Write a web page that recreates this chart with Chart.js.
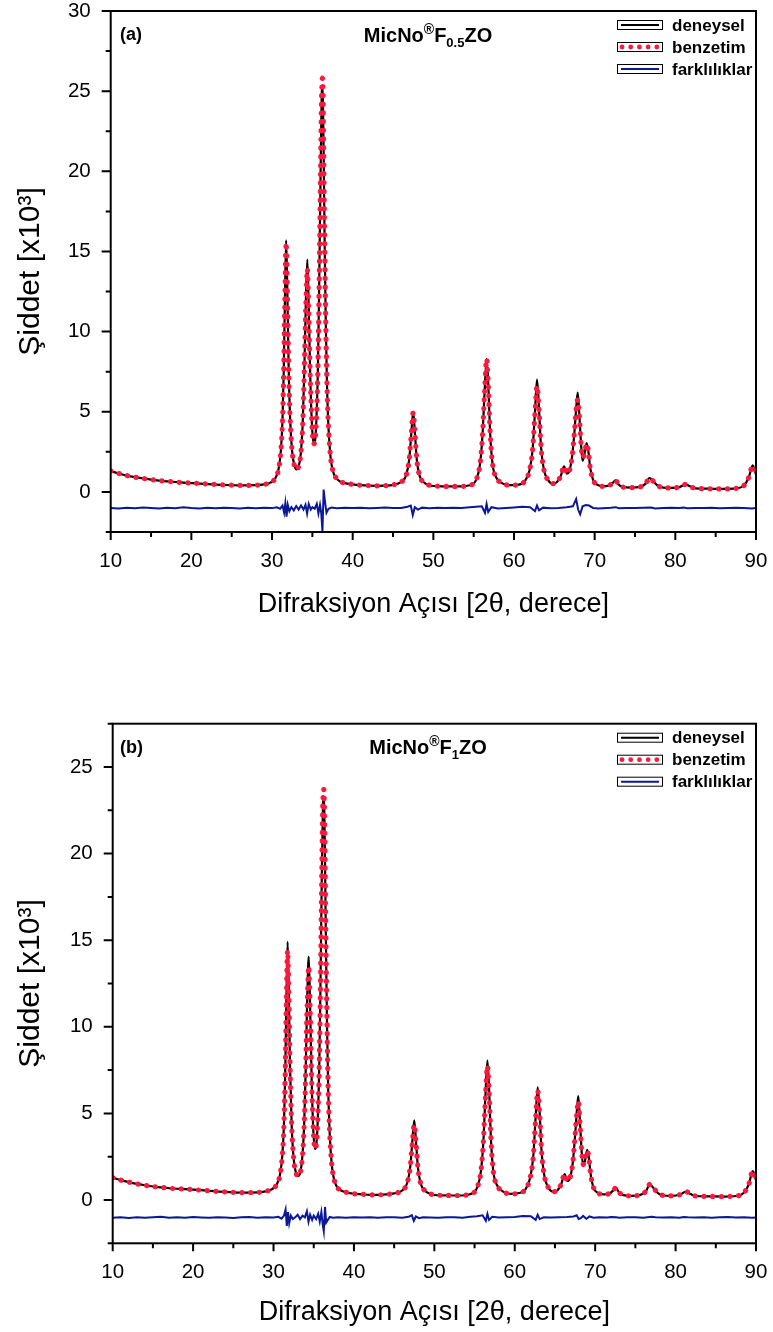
<!DOCTYPE html>
<html><head><meta charset="utf-8">
<script src="https://cdn.jsdelivr.net/npm/chart.js@4.4.1/dist/chart.umd.min.js"></script>
<style>
html,body{margin:0;padding:0;background:#fff;}
#wrap{position:relative;width:773px;height:1332px;overflow:hidden;}
canvas{position:absolute;left:0;}
</style></head><body>
<div id="wrap">
<canvas id="cA" width="773" height="650" style="top:0;width:773px;height:650px"></canvas>
<canvas id="cB" width="773" height="682" style="top:650px;width:773px;height:682px"></canvas>
</div>
<script>
// ---------- DATA ----------
const xTicks = [10,20,30,40,50,60,70,80,90];
const xMinorTicks = [15,25,35,45,55,65,75,85];
const yTicksA = [0,5,10,15,20,25,30];
const yTicksB = [0,5,10,15,20,25];
const yMinorA = [-2.5,2.5,7.5,12.5,17.5,22.5,27.5];
const yMinorB = [-2.5,2.5,7.5,12.5,17.5,22.5,27.5];
const seriesNames = ['deneysel','benzetim','farklılıklar'];

const xA = [10,11,12,13,14,15,16,17,18,19,20,
  22,24,26,28,29,29.8,30.4,30.8,
  31.1,31.3,31.45,31.6,31.75,31.9,32.05,32.25,32.5,32.8,
  33.05,33.3,33.55,33.8,34.0,34.2,34.38,34.55,34.75,34.95,
  35.15,35.3,35.5,35.7,35.85,36.0,36.15,36.25,36.38,36.5,
  36.65,36.8,37.0,37.25,37.55,37.9,38.4,39,40,41,
  42,43,44,45,46,46.6,47.0,47.25,47.5,47.7,
  47.95,48.3,48.8,49.5,51,53,54.5,55.3,55.8,56.1,
  56.35,56.6,56.8,57.05,57.35,57.8,58.5,59.5,60.5,61.3,
  61.9,62.3,62.6,62.85,63.1,63.35,63.7,64.2,64.8,65.3,
  65.8,66.2,66.55,66.85,67.2,67.5,67.75,67.9,68.1,68.35,
  68.5,68.75,69.0,69.2,69.45,69.8,70.3,71,71.8,72.3,
  72.6,72.9,73.5,74.5,75.5,76.3,76.8,77.2,77.8,78.5,
  79.5,80.5,81.3,81.8,82.5,84,86,87.5,88.5,89.1,
  89.6,90];
const expA = [1.30,1.15,1.02,0.92,0.84,0.77,0.71,0.66,0.62,0.58,0.55,
  0.49,0.44,0.41,0.42,0.47,0.58,0.85,1.4,
  2.6,4.5,7.5,12.0,15.7,12.5,8.0,4.5,2.5,1.6,
  1.4,1.6,2.3,4.2,7.5,12.0,14.5,11.5,7.0,4.2,
  3.0,3.1,4.5,8.0,13.0,19.0,24.5,25.3,22.0,16.5,
  11.0,7.0,4.0,2.2,1.3,0.9,0.66,0.55,0.47,0.42,
  0.39,0.38,0.39,0.44,0.62,1.0,2.0,3.5,5.0,3.8,
  2.0,1.0,0.6,0.42,0.35,0.34,0.42,0.75,1.8,3.6,
  6.2,8.3,6.8,3.6,1.7,0.9,0.55,0.42,0.45,0.65,
  1.3,2.6,5.0,7.0,5.2,2.8,1.4,0.75,0.52,0.6,
  1.0,1.6,1.15,1.3,2.2,3.8,5.5,6.2,4.8,2.7,
  1.95,2.4,3.05,2.6,1.5,0.75,0.45,0.35,0.4,0.6,
  0.72,0.5,0.3,0.27,0.3,0.5,0.87,0.7,0.4,0.27,
  0.25,0.3,0.47,0.35,0.22,0.2,0.19,0.22,0.4,0.9,
  1.65,1.1];
const fitA = [1.30,1.15,1.02,0.92,0.84,0.77,0.71,0.66,0.62,0.58,0.55,
  0.49,0.44,0.41,0.42,0.47,0.58,0.85,1.4,
  2.6,4.5,7.5,12.0,15.55,12.5,8.0,4.5,2.5,1.6,
  1.4,1.6,2.3,4.2,7.5,11.8,13.9,11.2,7.0,4.2,
  3.0,3.1,4.5,8.0,13.0,19.2,24.8,25.8,22.4,16.5,
  11.0,7.0,4.0,2.2,1.3,0.9,0.66,0.55,0.47,0.42,
  0.39,0.38,0.39,0.44,0.62,1.0,2.0,3.5,4.95,3.8,
  2.0,1.0,0.6,0.42,0.35,0.34,0.42,0.75,1.8,3.6,
  6.2,8.3,6.8,3.6,1.7,0.9,0.55,0.42,0.45,0.65,
  1.3,2.6,4.9,6.6,5.1,2.8,1.4,0.75,0.52,0.6,
  1.0,1.6,1.15,1.3,2.2,3.8,5.4,5.75,4.7,2.7,
  2.15,2.4,3.0,2.6,1.5,0.75,0.45,0.35,0.4,0.6,
  0.72,0.5,0.3,0.27,0.3,0.5,0.87,0.7,0.4,0.27,
  0.25,0.3,0.47,0.35,0.22,0.2,0.19,0.22,0.4,0.9,
  1.65,1.1];
const diffXA = [10,11,12,13,14,15,16,17,18,19,20,21,22,23,24,25,26,27,28,29,30,
  30.6,31.0,31.3,31.5,31.65,31.8,31.95,32.15,32.4,
  32.7,33.0,33.3,33.6,33.9,34.15,34.35,34.55,34.8,35.0,
  35.3,35.55,35.75,35.95,36.1,36.25,36.4,36.55,36.75,37.0,37.4,
  38,39,40,41,42,43,44,45,46,
  46.8,47.2,47.45,47.7,48.1,48.6,
  49.5,50.5,51.5,52.5,53.5,54.5,55.3,
  56.0,56.4,56.6,56.8,57.2,58,
  59,60,61,62,62.6,62.85,63.1,63.6,
  64.5,65.5,66.5,67.3,67.7,67.95,68.2,68.5,68.9,69.3,69.8,70.5,
  71.5,72,72.6,73,74,75,76,77,77.5,78.5,79.5,80.5,81,81.5,82.5,83.5,84.5,85.5,86.5,87.5,88.5,89.5,90];
const diffA = [-1.00,-1.03,-0.98,-1.02,-0.97,-1.01,-1.04,-0.99,-1.02,-0.96,-1.01,-1.03,-0.99,-1.02,-0.98,-1.01,-1.03,-0.99,-1.02,-0.98,-1.01,
  -0.96,-1.05,-0.85,-1.3,-0.7,-1.55,-0.8,-1.2,-0.95,
  -1.15,-0.88,-1.1,-0.85,-1.1,-0.8,-1.35,-0.75,-1.1,-0.95,
  -1.05,-0.75,-1.35,-0.8,-1.3,-2.45,0.15,-0.55,-1.3,-1.05,-0.98,
  -1.02,-0.99,-1.01,-0.98,-1.02,-1.0,-0.97,-1.01,-1.0,
  -0.92,-0.85,-1.45,-0.95,-1.1,-0.98,
  -1.02,-0.99,-1.01,-0.98,-1.0,-0.96,-0.92,
  -0.9,-1.3,-0.75,-1.25,-0.95,-1.03,
  -1.0,-0.97,-0.93,-0.95,-1.2,-0.85,-1.15,-0.98,
  -1.02,-1.0,-0.95,-0.9,-0.45,-1.1,-1.4,-0.9,-0.82,-0.85,-1.0,-1.03,
  -1.0,-0.99,-0.95,-1.02,-1.0,-1.01,-0.98,-0.97,-1.03,-1.0,-0.99,-1.01,-0.98,-1.02,-1.0,-1.01,-0.99,-1.02,-1.0,-0.99,-1.01,-1.04,-1.01];

const xB = [10,11,12,13,14,15,16,17,18,19,20,
  22,24,26,28,29,29.8,30.4,30.8,
  31.1,31.3,31.45,31.6,31.75,31.9,32.05,32.25,32.5,32.8,
  33.05,33.3,33.55,33.8,34.0,34.2,34.38,34.55,34.75,34.95,
  35.15,35.3,35.5,35.7,35.85,36.0,36.15,36.25,36.38,36.5,
  36.65,36.8,37.0,37.25,37.55,37.9,38.4,39,40,41,
  42,43,44,45,46,46.6,47.0,47.25,47.5,47.7,
  47.95,48.3,48.8,49.5,51,53,54.5,55.3,55.8,56.1,
  56.35,56.6,56.8,57.05,57.35,57.8,58.5,59.5,60.5,61.3,
  61.9,62.3,62.6,62.85,63.1,63.35,63.7,64.2,64.8,65.3,
  65.8,66.2,66.55,66.85,67.2,67.5,67.75,67.9,68.1,68.35,
  68.5,68.75,69.0,69.2,69.45,69.8,70.3,71,71.8,72.3,
  72.6,72.9,73.5,74.5,75.5,76.3,76.8,77.2,77.8,78.5,
  79.5,80.5,81.3,81.8,82.5,84,86,87.5,88.5,89.1,
  89.6,90];
const expB = [1.29,1.15,1.03,0.93,0.85,0.78,0.73,0.68,0.65,0.63,0.60,
  0.53,0.47,0.43,0.44,0.5,0.62,0.9,1.45,
  2.6,4.4,7.2,11.5,14.9,12.0,7.8,4.4,2.4,1.55,
  1.39,1.55,2.3,4.2,7.5,11.8,14.05,11.2,6.8,4.0,
  2.95,3.1,4.6,8.0,12.8,18.5,22.8,23.3,20.5,15.5,
  10.2,6.4,3.7,2.0,1.15,0.75,0.55,0.45,0.36,0.33,
  0.3,0.3,0.32,0.38,0.55,0.95,1.9,3.3,4.6,3.5,
  1.9,0.95,0.55,0.35,0.27,0.26,0.35,0.7,1.7,3.4,
  6.0,8.05,6.5,3.4,1.6,0.85,0.5,0.35,0.4,0.6,
  1.25,2.5,4.8,6.5,5.0,2.7,1.35,0.7,0.48,0.55,
  0.95,1.5,1.1,1.25,2.1,3.7,5.3,6.0,4.6,2.6,
  2.0,2.3,2.9,2.5,1.45,0.7,0.42,0.32,0.38,0.58,
  0.71,0.48,0.28,0.24,0.28,0.5,0.9,0.72,0.4,0.26,
  0.24,0.3,0.48,0.36,0.23,0.21,0.2,0.23,0.42,0.9,
  1.67,1.15];
const fitB = [1.29,1.15,1.03,0.93,0.85,0.78,0.73,0.68,0.65,0.63,0.60,
  0.53,0.47,0.43,0.44,0.5,0.62,0.9,1.45,
  2.6,4.4,7.2,11.4,14.4,11.9,7.8,4.4,2.4,1.55,
  1.39,1.55,2.3,4.2,7.4,11.5,13.5,11.0,6.8,4.0,
  2.95,3.1,4.6,8.0,12.8,18.7,23.2,23.7,20.8,15.5,
  10.2,6.4,3.7,2.0,1.15,0.75,0.55,0.45,0.36,0.33,
  0.3,0.3,0.32,0.38,0.55,0.95,1.9,3.2,4.35,3.4,
  1.9,0.95,0.55,0.35,0.27,0.26,0.35,0.7,1.7,3.4,
  5.9,7.75,6.4,3.4,1.6,0.85,0.5,0.35,0.4,0.6,
  1.25,2.5,4.7,6.3,4.9,2.7,1.35,0.7,0.48,0.55,
  0.95,1.5,1.1,1.25,2.1,3.7,5.2,5.7,4.5,2.6,
  2.05,2.3,2.85,2.5,1.45,0.7,0.42,0.32,0.38,0.58,
  0.71,0.48,0.28,0.24,0.28,0.5,0.9,0.72,0.4,0.26,
  0.24,0.3,0.48,0.36,0.23,0.21,0.2,0.23,0.42,0.9,
  1.67,1.15];
const diffXB = [10,11,12,13,14,15,16,17,18,19,20,21,22,23,24,25,26,27,28,29,30,
  30.6,31.0,31.3,31.5,31.65,31.8,31.95,32.15,32.4,
  32.7,33.0,33.3,33.6,33.9,34.15,34.35,34.55,34.8,35.0,
  35.3,35.55,35.75,35.95,36.1,36.25,36.4,36.55,36.75,37.0,37.4,
  38,39,40,41,42,43,44,45,46,
  46.8,47.2,47.45,47.7,48.1,48.6,
  49.5,50.5,51.5,52.5,53.5,54.5,55.3,
  56.0,56.4,56.6,56.8,57.2,58,
  59,60,61,62,62.6,62.85,63.1,63.6,
  64.5,65.5,66.5,67.3,67.7,67.95,68.2,68.5,68.9,69.3,69.8,70.5,
  71.5,72,72.6,73,74,75,76,77,77.5,78.5,79.5,80.5,81,81.5,82.5,83.5,84.5,85.5,86.5,87.5,88.5,89.5,90];
const diffB = [-1.02,-1.0,-1.04,-0.99,-1.03,-1.0,-0.97,-1.02,-1.0,-1.03,-0.98,-1.01,-1.03,-0.99,-1.01,-1.04,-1.0,-0.98,-1.02,-1.0,-1.01,
  -0.97,-1.08,-0.9,-0.55,-1.5,-0.7,-1.35,-0.9,-1.1,
  -1.0,-0.85,-1.1,-0.9,-1.0,-0.65,-1.25,-0.85,-1.15,-0.9,
  -1.1,-0.8,-1.25,-0.7,-1.35,-1.8,-0.4,-1.3,-1.15,-0.98,-1.02,
  -1.0,-1.02,-0.99,-1.01,-1.0,-1.03,-0.99,-1.0,-1.02,
  -0.97,-0.88,-1.2,-0.95,-1.05,-1.0,
  -1.01,-1.03,-0.99,-1.0,-1.02,-0.97,-0.94,
  -0.88,-1.2,-0.8,-1.15,-0.97,-1.01,
  -1.0,-0.98,-0.92,-0.94,-1.15,-0.85,-1.1,-1.0,
  -1.01,-1.0,-0.98,-0.95,-0.88,-1.1,-1.05,-0.92,-1.08,-0.95,-1.02,-1.0,
  -1.01,-0.98,-1.0,-1.02,-0.99,-1.0,-1.02,-0.97,-1.0,-1.01,-0.99,-1.02,-0.98,-1.0,-1.01,-0.99,-1.02,-1.0,-0.98,-1.01,-1.0,-1.03,-1.01];

// ---------- STYLE ----------
const FONT = "'Liberation Sans', Arial, Helvetica, sans-serif";
const RED = 'rgb(255,24,60)';
const BLUE = 'rgb(10,24,150)';
Chart.defaults.font.family = FONT;
Chart.defaults.color = '#000';

const decor = {
  id: 'decor',
  afterDatasetsDraw(chart, args, o) {
    const ctx = chart.ctx, a = chart.chartArea;
    const xs = chart.scales.x, ys = chart.scales.y;
    ctx.save();
    ctx.strokeStyle = '#000';
    ctx.lineWidth = 2;
    ctx.strokeRect(a.left, a.top, a.right - a.left, a.bottom - a.top);
    ctx.beginPath();
    xTicks.forEach(v => { const p = xs.getPixelForValue(v); ctx.moveTo(p, a.bottom); ctx.lineTo(p, a.bottom + 8); });
    xMinorTicks.forEach(v => { const p = xs.getPixelForValue(v); ctx.moveTo(p, a.bottom); ctx.lineTo(p, a.bottom + 5); });
    o.yMajor.forEach(v => { const p = ys.getPixelForValue(v); ctx.moveTo(a.left, p); ctx.lineTo(a.left - 9, p); });
    o.yMinor.forEach(v => { const p = ys.getPixelForValue(v); ctx.moveTo(a.left, p); ctx.lineTo(a.left - 5, p); });
    ctx.stroke();

    // legend
    const lx = 617, lw = 45;
    const rows = [a.top + 14, a.top + 36, a.top + 58];
    ctx.font = 'bold 17px ' + FONT;
    ctx.textBaseline = 'middle';
    ctx.textAlign = 'left';
    seriesNames.forEach((name, i) => {
      const y = rows[i];
      ctx.lineWidth = 1;
      ctx.strokeStyle = '#000';
      ctx.fillStyle = '#fff';
      ctx.fillRect(lx + 0.5, y - 4.5, lw, 9);
      ctx.strokeRect(lx + 0.5, y - 4.5, lw, 9);
      if (i === 1) {
        ctx.fillStyle = RED;
        for (let k = 0; k < 5; k++) { ctx.beginPath(); ctx.arc(lx + 5 + k * 8.7, y, 2.4, 0, Math.PI * 2); ctx.fill(); }
      } else {
        ctx.strokeStyle = i === 0 ? '#000' : BLUE;
        ctx.lineWidth = 2;
        ctx.beginPath(); ctx.moveTo(lx + 4, y); ctx.lineTo(lx + lw - 3, y); ctx.stroke();
      }
      ctx.fillStyle = '#000';
      ctx.fillText(name, 672, y + 1);
    });

    // panel label
    ctx.font = 'bold 18px ' + FONT;
    ctx.fillText(o.panel, 120, a.top + 24);

    // rich title
    const parts = o.title;
    ctx.textBaseline = 'alphabetic';
    let w = 0;
    parts.forEach(p => { ctx.font = 'bold ' + p.s + 'px ' + FONT; w += ctx.measureText(p.t).width; });
    let x = o.titleCx - w / 2;
    const by = a.top + 30.7;
    parts.forEach(p => {
      ctx.font = 'bold ' + p.s + 'px ' + FONT;
      ctx.fillText(p.t, x, by + (p.dy || 0));
      x += ctx.measureText(p.t).width;
    });
    ctx.restore();
  }
};

function makeChart(id, c) {
  return new Chart(document.getElementById(id), {
    type: 'line',
    data: { datasets: [
      { label: seriesNames[0], data: c.x.map((x, i) => ({x, y: c.exp[i]})), borderColor: '#000', borderWidth: 2.2,
        pointRadius: 0, cubicInterpolationMode: 'monotone', order: 2 },
      { label: seriesNames[1], data: c.x.map((x, i) => ({x, y: c.fit[i]})), borderColor: RED, borderWidth: 5.2,
        borderDash: [0.1, 8.6], borderCapStyle: 'round', pointRadius: 0, cubicInterpolationMode: 'monotone', order: 1 },
      { label: seriesNames[2], data: c.dx.map((x, i) => ({x, y: c.diff[i]})), borderColor: BLUE, borderWidth: 2,
        pointRadius: 0, tension: 0, order: 3 }
    ]},
    options: {
      responsive: false, animation: false, devicePixelRatio: 1,
      layout: { padding: { top: c.T, right: 773 - c.R, left: 0, bottom: 0 } },
      plugins: {
        legend: { display: false }, tooltip: { enabled: false },
        decor: { yMajor: c.yTicks, yMinor: c.yMinor, panel: c.panel, title: c.title, titleCx: 428 }
      },
      scales: {
        x: {
          type: 'linear', min: 10, max: 90,
          afterBuildTicks: s => { s.ticks = xTicks.map(v => ({value: v})); },
          ticks: { font: { size: 20.5 }, padding: 9, maxRotation: 0, autoSkip: false, color: '#000' },
          grid: { display: false, drawTicks: true, tickLength: 8 },
          border: { display: false },
          title: { display: true, text: 'Difraksiyon Açısı [2θ, derece]', font: { size: 27 }, color: '#000',
                   padding: { top: 0, bottom: c.xtPad } },
          afterFit: s => { s.height = c.H - c.B; s.paddingLeft = 0; s.paddingRight = 0; }
        },
        y: {
          type: 'linear', min: c.ymin, max: c.ymax,
          afterBuildTicks: s => { s.ticks = c.yTicks.map(v => ({value: v})); },
          ticks: { font: { size: 20.5 }, padding: 11, color: '#000' },
          grid: { display: false, drawTicks: true, tickLength: 9 },
          border: { display: false },
          title: { display: true, text: 'Şiddet [x10³]', font: { size: 30 }, color: '#000',
                   padding: { top: 13, bottom: 0 } },
          afterFit: s => { s.width = c.L; s.paddingTop = 0; s.paddingBottom = 0; }
        }
      }
    },
    plugins: [decor]
  });
}

makeChart('cA', {
  x: xA, exp: expA, fit: fitA, dx: diffXA, diff: diffA,
  T: 11, L: 110.7, R: 756, B: 532, H: 650, xtPad: 28.8,
  ymin: -2.5, ymax: 30, yTicks: yTicksA, yMinor: yMinorA, panel: '(a)',
  title: [{t:'MicNo', s:20}, {t:'®', s:14, dy:-8}, {t:'F', s:20}, {t:'0.5', s:13, dy:5}, {t:'ZO', s:20}]
});
makeChart('cB', {
  x: xB, exp: expB, fit: fitB, dx: diffXB, diff: diffB,
  T: 73.7, L: 112.7, R: 756, B: 593.3, H: 682, xtPad: 2.8,
  ymin: -2.5, ymax: 27.5, yTicks: yTicksB, yMinor: yMinorB, panel: '(b)',
  title: [{t:'MicNo', s:20}, {t:'®', s:14, dy:-8}, {t:'F', s:20}, {t:'1', s:13, dy:5}, {t:'ZO', s:20}]
});
</script>
</body></html>
